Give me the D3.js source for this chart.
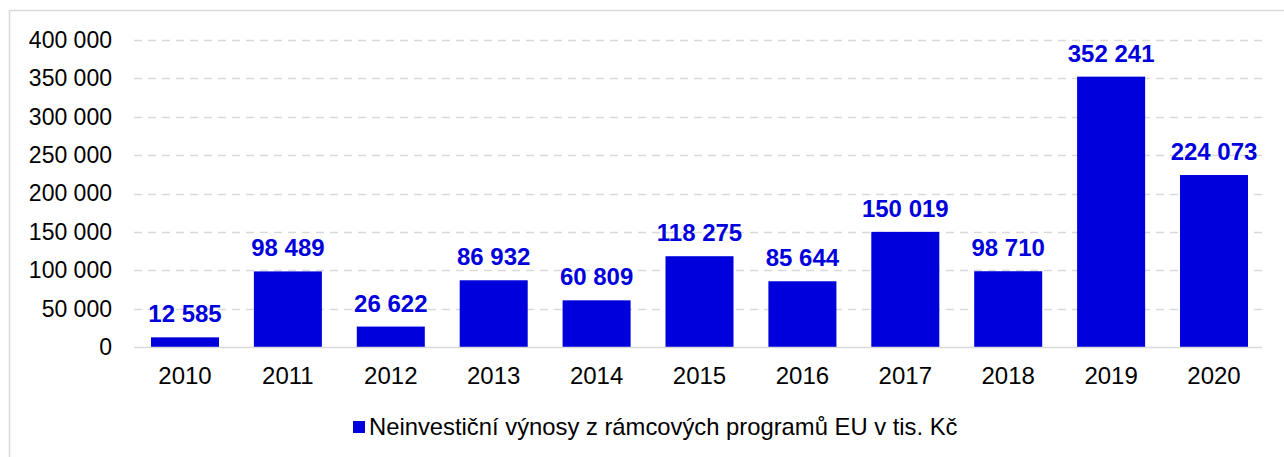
<!DOCTYPE html>
<html>
<head>
<meta charset="utf-8">
<script src="https://cdn.jsdelivr.net/npm/d3@7"></script>
<style>
  body { margin: 0; background: #fff; }
  svg { display: block; font-family: "Liberation Sans", Arial, sans-serif; }
</style>
</head>
<body>
<div id="chart"></div>
<script>
const width = 1284;
const height = 457;

const margin = ({top: 40, right: 22, bottom: 110, left: 134});

const years = ["2010", "2011", "2012", "2013", "2014", "2015", "2016", "2017", "2018", "2019", "2020"];
const values = [12585, 98489, 26622, 86932, 60809, 118275, 85644, 150019, 98710, 352241, 224073];
const yTicks = [0, 50000, 100000, 150000, 200000, 250000, 300000, 350000, 400000];
const seriesName = "Neinvestiční výnosy z rámcových programů EU v tis. Kč";

const barColor = "#0000dc";
const fmt = v => d3.format(",")(v).replace(/,/g, " ");

const x = d3.scaleBand()
  .domain(years)
  .range([margin.left, 1265])
  .paddingInner(0.339)
  .paddingOuter(0.165);

const y = d3.scaleLinear()
  .domain([0, 400000])
  .range([347, margin.top]);

const svg = d3.select("#chart")
  .append("svg")
  .attr("width", width)
  .attr("height", height)
  .attr("viewBox", [0, 0, width, height]);

// outer frame
svg.append("rect")
  .attr("x", 9.5).attr("y", 10.5)
  .attr("width", width).attr("height", height)
  .attr("fill", "none")
  .attr("stroke", "#d9d9d9")
  .attr("stroke-width", 1.5);

// grid
svg.append("g")
  .selectAll("line")
  .data(yTicks.filter(d => d > 0))
  .join("line")
  .attr("x1", margin.left).attr("x2", width - margin.right)
  .attr("y1", d => Math.round(y(d)) + 0.5).attr("y2", d => Math.round(y(d)) + 0.5)
  .attr("stroke", "#d9d9d9")
  .attr("stroke-width", 1.5)
  .attr("stroke-dasharray", "8,6");

// y axis
svg.append("g")
  .attr("transform", `translate(${margin.left - 22},0)`)
  .call(d3.axisLeft(y).tickValues(yTicks).tickFormat(fmt).tickSize(0).tickPadding(0))
  .call(g => g.select(".domain").remove())
  .call(g => g.selectAll("text")
    .attr("font-size", 23)
    .attr("font-family", "Liberation Sans, Arial, sans-serif")
    .attr("fill", "#000"));

// bars
svg.append("g")
  .selectAll("rect")
  .data(values)
  .join("rect")
  .attr("x", (d, i) => x(years[i]))
  .attr("y", d => y(d))
  .attr("width", x.bandwidth())
  .attr("height", d => y(0) - y(d))
  .attr("fill", barColor);

// baseline
svg.append("line")
  .attr("x1", margin.left).attr("x2", width - margin.right)
  .attr("y1", y(0) + 0.5).attr("y2", y(0) + 0.5)
  .attr("stroke", "#d9d9d9")
  .attr("stroke-width", 1.5);

// x axis
svg.append("g")
  .attr("transform", `translate(0,${y(0)})`)
  .call(d3.axisBottom(x).tickSize(0).tickPadding(20))
  .call(g => g.select(".domain").remove())
  .call(g => g.selectAll("text")
    .attr("font-size", 24)
    .attr("font-family", "Liberation Sans, Arial, sans-serif")
    .attr("fill", "#000"));

// value labels
svg.append("g")
  .selectAll("text")
  .data(values)
  .join("text")
  .attr("x", (d, i) => x(years[i]) + x.bandwidth() / 2)
  .attr("y", d => y(d) - 15)
  .attr("text-anchor", "middle")
  .attr("font-size", 24)
  .attr("font-weight", "bold")
  .attr("fill", barColor)
  .text(fmt);

// legend
const legend = svg.append("g").attr("transform", "translate(353,421)");
legend.append("rect")
  .attr("x", 0).attr("y", 0)
  .attr("width", 12).attr("height", 12)
  .attr("fill", barColor);
legend.append("text")
  .attr("x", 16).attr("y", 14)
  .attr("font-size", 23.8)
  .attr("fill", "#000")
  .text(seriesName);
</script>
</body>
</html>
